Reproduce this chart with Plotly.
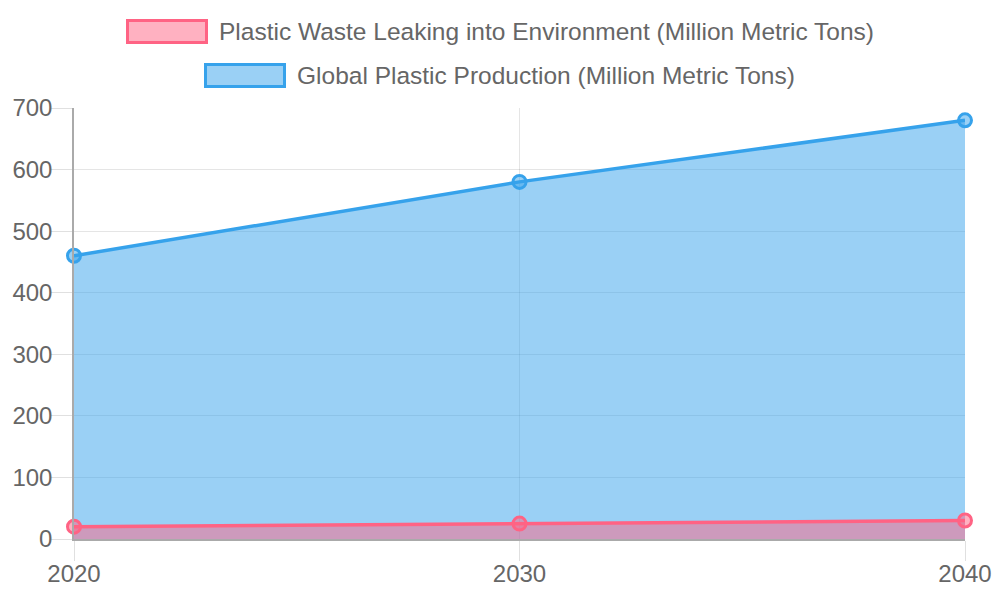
import plotly.graph_objects as go

years = [2020, 2030, 2040]
production = [460, 580, 680]
leakage = [20, 25, 30]
series_names = [
    "Plastic Waste Leaking into Environment (Million Metric Tons)",
    "Global Plastic Production (Million Metric Tons)",
]
y_ticks = [0, 100, 200, 300, 400, 500, 600, 700]

PINK = "rgb(255,99,132)"
PINK_FILL = "rgba(255,99,132,0.5)"
BLUE = "rgb(54,162,235)"
BLUE_FILL = "rgba(54,162,235,0.5)"
FONT = "Liberation Sans, Arial, sans-serif"
GRAY = "#666666"
GRID = "rgba(0,0,0,0.1)"

W, H = 1000, 600
L, R, T, B = 74, 35, 108, 61
PW, PH = W - L - R, H - T - B


def px_x(px):
    return (px - L) / PW


def px_y(py):
    return (H - B - py) / PH


fig = go.Figure()
fig.add_trace(go.Scatter(
    x=years, y=production, mode="lines+markers", fill="tozeroy",
    fillcolor=BLUE_FILL, line=dict(color=BLUE, width=3.5),
    marker=dict(size=13, color=BLUE_FILL, line=dict(color=BLUE, width=3)),
    name=series_names[1], showlegend=False, cliponaxis=False,
))
fig.add_trace(go.Scatter(
    x=years, y=leakage, mode="lines+markers", fill="tozeroy",
    fillcolor=PINK_FILL, line=dict(color=PINK, width=3.5),
    marker=dict(size=13, color=PINK_FILL, line=dict(color=PINK, width=3)),
    name=series_names[0], showlegend=False, cliponaxis=False,
))

# manual legend (Chart.js style, centered rows)
legend_items = [
    (series_names[0], PINK, PINK_FILL, 126, 19, 44),
    (series_names[1], BLUE, BLUE_FILL, 204, 63, 88),
]
shapes = []
annotations = []
for name, lc, fc, x0, y0, y1 in legend_items:
    shapes.append(dict(
        type="rect", xref="paper", yref="paper",
        x0=px_x(x0 + 1.5), x1=px_x(x0 + 80.5), y0=px_y(y1 - 1.5), y1=px_y(y0 + 1.5),
        line=dict(color=lc, width=3), fillcolor=fc, layer="above",
    ))
    annotations.append(dict(
        xref="paper", yref="paper", x=px_x(x0 + 91), y=px_y((y0 + y1) / 2),
        xanchor="left", yanchor="middle", text=name, showarrow=False,
        font=dict(family=FONT, size=24.5, color=GRAY),
    ))

fig.update_layout(
    width=W, height=H,
    margin=dict(l=L, r=R, t=T, b=B, pad=0, autoexpand=False),
    paper_bgcolor="white", plot_bgcolor="white",
    showlegend=False,
    shapes=shapes, annotations=annotations,
    font=dict(family=FONT, size=24, color=GRAY),
)
fig.update_xaxes(
    range=[2020, 2040], tickvals=years, ticktext=[str(y) for y in years],
    automargin=False,
    showgrid=True, gridcolor=GRID, gridwidth=1,
    zeroline=False, showline=True, linecolor="#aaaaaa", linewidth=1.5,
    ticks="outside", ticklen=20, tickcolor="#e0e0e0", tickwidth=1,
    ticklabelstandoff=-8,
    tickfont=dict(family=FONT, size=24, color=GRAY),
)
fig.update_yaxes(
    range=[0, 700], tickvals=y_ticks,
    automargin=False,
    showgrid=True, gridcolor=GRID, gridwidth=1,
    zeroline=False, showline=True, linecolor="#aaaaaa", linewidth=1.5,
    ticks="outside", ticklen=21, tickcolor="#e0e0e0", tickwidth=1,
    ticklabelstandoff=-6,
    tickfont=dict(family=FONT, size=24, color=GRAY),
)

fig.write_html("out.html")
